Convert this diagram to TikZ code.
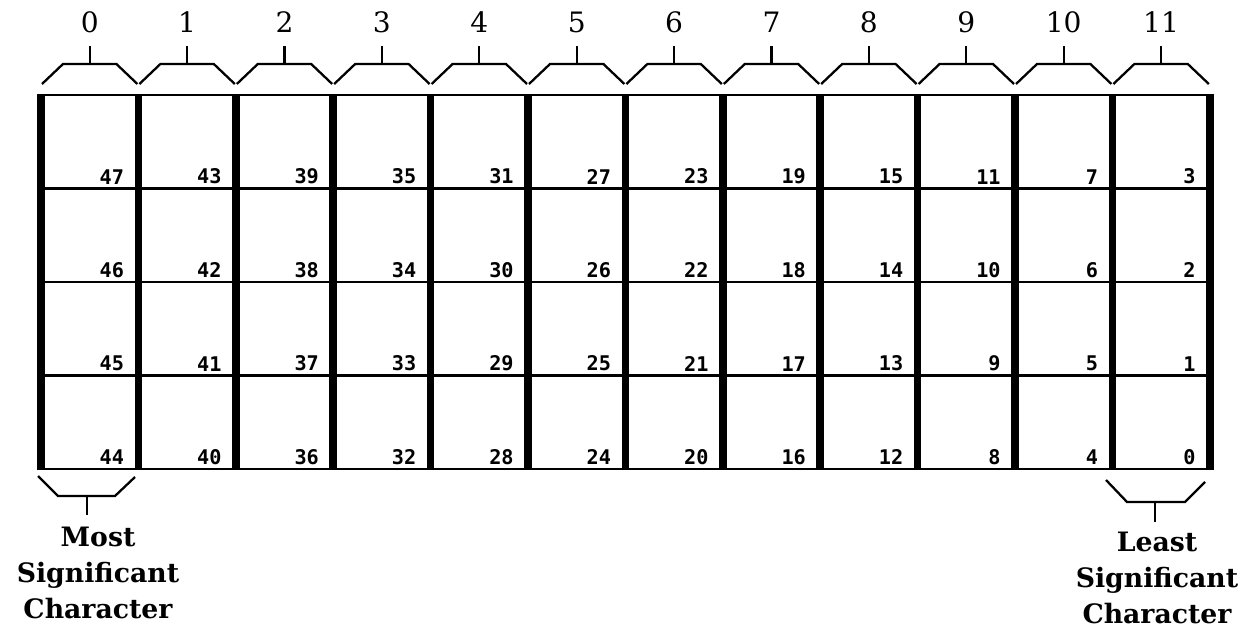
\documentclass[tikz,border=0pt]{standalone}
\usepackage{fontspec}
\setmainfont{DejaVu Serif}
\setmonofont{DejaVu Sans Mono}
\usetikzlibrary{positioning,calc}

\begin{document}
\begin{tikzpicture}[x=0.02cm, y=-0.02cm,
    bitnum/.style={font=\ttfamily\bfseries\fontsize{11.5}{13}\selectfont, anchor=south east, inner sep=0pt},
    colnum/.style={font=\fontsize{16}{18}\selectfont, anchor=south, inner xsep=0pt, inner ysep=0.26cm},
    sigtext/.style={font=\bfseries\fontsize{15.2}{20.5}\selectfont, align=center, anchor=north, inner xsep=0pt},
    divider/.style={line width=4.3pt},
    rowline/.style={line width=1.2pt},
    bracket/.style={line width=1.3pt, line join=miter}]
  \useasboundingbox (0,0) rectangle (1250,628);
  % register grid
  \foreach \r in {0,...,4}
    \draw[rowline] (39,{95+93.5*\r}) -- (1212,{95+93.5*\r});
  \foreach \i in {0,...,12}
    \draw[divider] ({41+97.4*\i},94) -- ({41+97.4*\i},470);
  % bit numbers
  \foreach \c in {0,...,11}
    \foreach \r in {0,...,3} {
      \pgfmathtruncatemacro\v{47-4*\c-\r}
      \node[bitnum] (b\v) at ({41+97.4*(\c+1)-14},{95+93.5*(\r+1)-4}) {\v};
    }
  % character brackets on top
  \foreach \c in {0,...,11} {
    \coordinate (t\c) at ({41+97.4*\c+48.7},64);
    \draw[bracket] ({41+97.4*\c+1},84) -- ++(21,-20) -- ({41+97.4*(\c+1)-22},64) -- ++(21,20);
    \node[colnum] (c\c) at ({41+97.4*\c+48.7},46) {\c};
    \draw[bracket] (t\c) -- (c\c);
  }
  % most significant character
  \coordinate (mst) at (87,496);
  \draw[bracket] (38,476) -- (58,496) -- (115,496) -- (135,477);
  \node[sigtext, inner ysep=0.24cm] (msc) at (98,515) {Most\\Significant\\Character};
  \draw[bracket] (mst) -- (mst |- msc.north);
  % least significant character
  \coordinate (lst) at (1155,502);
  \draw[bracket] (1106,480) -- (1127,502) -- (1185,502) -- (1205,482);
  \node[sigtext, inner ysep=0.2cm] (lsc) at (1157,522) {Least\\Significant\\Character};
  \draw[bracket] (lst) -- (lst |- lsc.north);
\end{tikzpicture}
\end{document}
